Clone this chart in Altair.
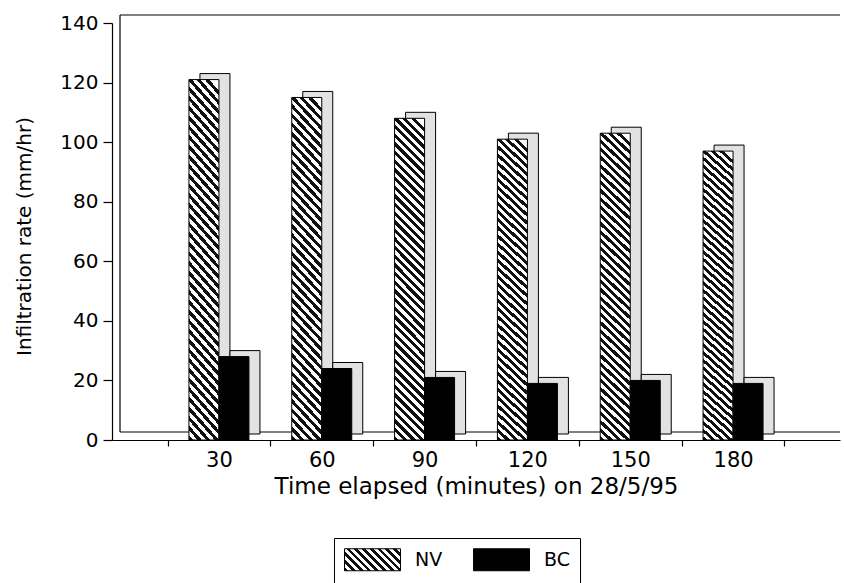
import json
import altair as alt
import pandas as pd

# ---- data ----
minutes = ["30", "60", "90", "120", "150", "180"]
nv_rate = [121, 115, 108, 101, 103, 97]
bc_rate = [28, 24, 21, 19, 20, 19]
series = ["NV", "BC"]
y_ticks = [0, 20, 40, 60, 80, 100, 120, 140]

df = pd.DataFrame({
    "minutes": minutes * 2,
    "series": ["NV"] * len(minutes) + ["BC"] * len(minutes),
    "rate": nv_rate + bc_rate,
})

W, H = 728, 417
FONT = "DejaVu Sans"


def stripe_stops(n, dark="#111111", light="#ffffff"):
    stops = []
    for i in range(n):
        a, m, b = i / n, (i + 0.5) / n, (i + 1) / n
        stops += [{"offset": a, "color": dark}, {"offset": m, "color": dark},
                  {"offset": m, "color": light}, {"offset": b, "color": light}]
    return stops


bar_hatch = {"gradient": "linear", "x1": 0, "y1": 1, "x2": 0.1, "y2": -0.067,
             "stops": stripe_stops(40)}
legend_hatch = {"gradient": "linear", "x1": 0, "y1": 1, "x2": 1.2, "y2": 0.53,
                "stops": stripe_stops(10)}

x_enc = alt.X(
    "minutes:N", sort=minutes,
    scale=alt.Scale(domain=minutes, paddingInner=0, paddingOuter=0.54),
    axis=alt.Axis(title="Time elapsed (minutes) on 28/5/95", labelAngle=0,
                  tickBand="extent", tickSize=6, labelPadding=3, titlePadding=5,
                  labelFontSize=21, titleFontSize=23),
)
y_enc = alt.Y(
    "rate:Q", scale=alt.Scale(domain=[0, 140], nice=False),
    axis=alt.Axis(values=y_ticks, title="Infiltration rate (mm/hr)", tickSize=9,
                  labelPadding=5, titlePadding=25, titleY=213,
                  labelFontSize=20, titleFontSize=20),
)

NV_DX, BC_DX, DEPTH_X, DEPTH_Y = -15, 15, 11, -6
SIDE = "#e2e2e2"
PAD = "\u00a0" * 14


def series_layer(name):
    return alt.Chart(df).transform_filter(alt.datum.series == name).encode(x=x_enc, y=y_enc)


nv_back = series_layer("NV").mark_bar(
    width=30, xOffset=NV_DX + DEPTH_X, yOffset=DEPTH_Y, y2Offset=DEPTH_Y,
    fill=SIDE, stroke="black", strokeWidth=1)
bc_back = series_layer("BC").mark_bar(
    width=30, xOffset=BC_DX + DEPTH_X, yOffset=DEPTH_Y, y2Offset=DEPTH_Y,
    fill=SIDE, stroke="black", strokeWidth=1)
nv_front = series_layer("NV").mark_bar(
    width=30, xOffset=NV_DX, fill=bar_hatch, stroke="black", strokeWidth=1)
bc_front = series_layer("BC").mark_bar(
    width=30, xOffset=BC_DX, stroke="black", strokeWidth=1).encode(
    fill=alt.Fill(
        "series:N",
        scale=alt.Scale(domain=series,
                        range=[alt.ExprRef(expr=json.dumps(legend_hatch)), "black"]),
        legend=alt.Legend(
            title=None, orient="none", legendX=222, legendY=515, direction="horizontal",
            symbolType="M-1,-1H4.09V1H-1Z", symbolSize=484,
            symbolStrokeColor="black", symbolStrokeWidth=1, symbolOpacity=1,
            labelFont=FONT, labelFontSize=19, labelColor="black",
            labelOffset=48, columnPadding=28, padding=10, strokeColor="black",
            labelExpr="datum.value === 'BC' ? 'BC" + PAD + "' : datum.label",
        ),
    )
)

one = pd.DataFrame({"k": [0]})
wall_v = alt.Chart(one).mark_rule(color="black", strokeWidth=1.2, yOffset=-8, y2Offset=-8).encode(
    x=alt.value(8), y=alt.Y(datum=140, type="quantitative"), y2=alt.Y2(datum=0))
wall_top = alt.Chart(one).mark_rule(color="black", strokeWidth=1.2, yOffset=-8).encode(
    y=alt.Y(datum=140, type="quantitative"), x=alt.value(8), x2=alt.value(W))
floor = alt.Chart(one).mark_rule(color="black", strokeWidth=1.2, yOffset=-8).encode(
    y=alt.Y(datum=0, type="quantitative"), x=alt.value(8), x2=alt.value(W))

chart = alt.layer(
    wall_v, wall_top, floor, nv_back, bc_back, nv_front, bc_front
).properties(
    width=W, height=H,
    autosize=alt.AutoSizeParams(type="none"),
    padding={"left": 112, "top": 23, "right": 4, "bottom": 143},
    background="white",
).configure_view(
    stroke=None
).configure_axis(
    grid=False, domainColor="black", tickColor="black", labelColor="black",
    titleColor="black", labelFont=FONT, titleFont=FONT, titleFontWeight="normal",
    domainWidth=1.2, tickWidth=1.2,
)

chart.save("out.html", embed_options={"renderer": "svg", "actions": False})
